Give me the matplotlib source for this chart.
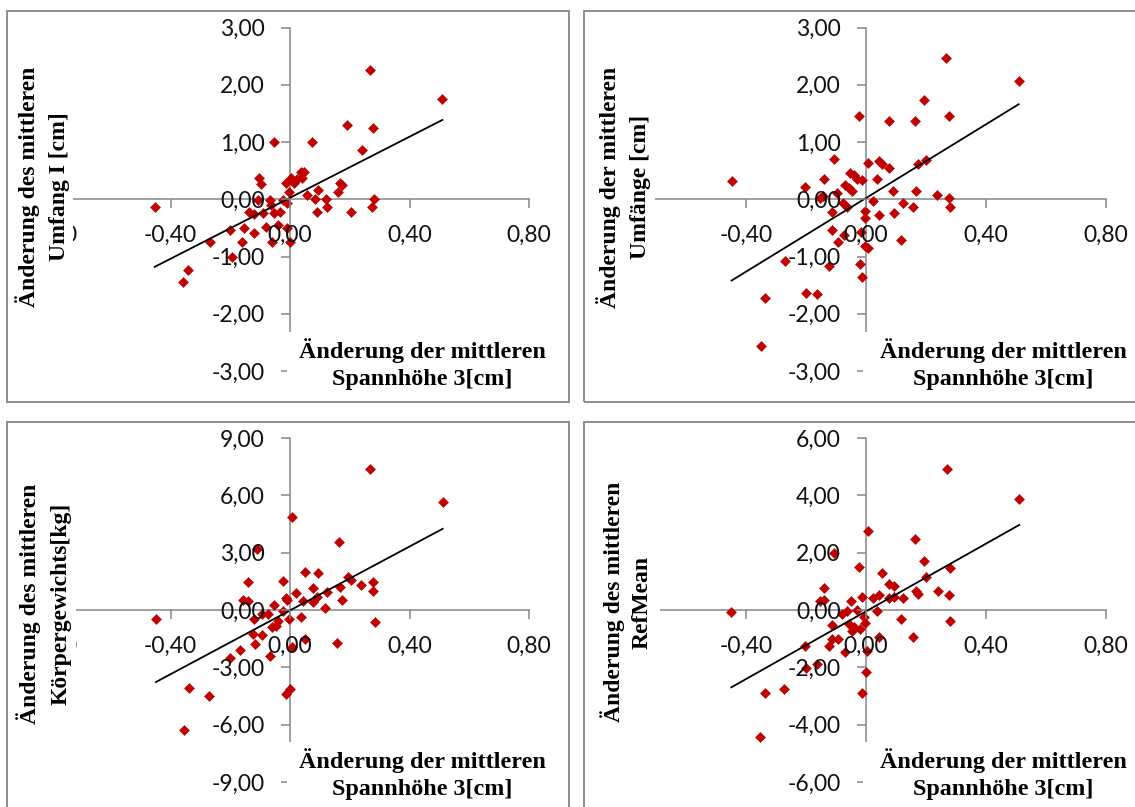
import numpy as np
import matplotlib
matplotlib.use("Agg")
import matplotlib.pyplot as plt
from matplotlib.patches import Rectangle

# ---------------- data ----------------
x_ticks = [-0.8, -0.4, 0.0, 0.4, 0.8]
y_ticks_umfang = [-3, -2, -1, 0, 1, 2, 3]
y_ticks_gewicht = [-9, -6, -3, 0, 3, 6, 9]
y_ticks_refmean = [-6, -4, -2, 0, 2, 4, 6]

x_label = ["Änderung der mittleren", "Spannhöhe 3[cm]"]
y_label_umfang1 = ["Änderung des mittleren", "Umfang I [cm]"]
y_label_umfaenge = ["Änderung der mittleren", "Umfänge [cm]"]
y_label_gewicht = ["Änderung des mittleren", "Körpergewichts[kg]"]
y_label_refmean = ["Änderung des mittleren", "RefMean"]

x_umfang1 = [-0.453, -0.357, -0.341, -0.269, -0.202, -0.195, -0.159, -0.154, -0.137, -0.120,
             -0.120, -0.107, -0.104, -0.098, -0.092, -0.081, -0.067, -0.062, -0.061, -0.054,
             -0.053, -0.040, -0.033, -0.025, -0.014, -0.011, -0.009, -0.005, 0.000, 0.005,
             0.013, 0.022, 0.036, 0.041, 0.047, 0.056, 0.073, 0.083, 0.092, 0.095,
             0.119, 0.125, 0.159, 0.167, 0.175, 0.192, 0.203, 0.242, 0.267, 0.275,
             0.278, 0.281, 0.510]
y_umfang1 = [-0.13, -1.44, -1.24, -0.74, -0.54, -1.00, -0.74, -0.51, -0.22, -0.25,
             -0.59, -0.01, 0.37, 0.27, -0.24, -0.49, -0.01, -0.10, -0.74, -0.24,
             1.00, -0.45, -0.22, -0.01, 0.28, -0.51, -0.07, 0.12, -0.74, 0.37,
             0.28, 0.35, 0.48, 0.37, 0.48, 0.08, 1.00, 0.00, -0.22, 0.16,
             0.00, -0.13, 0.13, 0.28, 0.25, 1.30, -0.22, 0.86, 2.25, -0.13,
             1.24, 0.00, 1.75]

x_umfaenge = [-0.448, -0.351, -0.336, -0.271, -0.205, -0.199, -0.165, -0.153, -0.142, -0.141,
              -0.123, -0.114, -0.114, -0.107, -0.098, -0.093, -0.078, -0.073, -0.069, -0.063,
              -0.057, -0.053, -0.047, -0.039, -0.030, -0.023, -0.020, -0.017, -0.014, -0.012,
              -0.005, -0.002, -0.002, 0.006, 0.007, 0.022, 0.037, 0.042, 0.043, 0.052,
              0.076, 0.078, 0.091, 0.094, 0.116, 0.124, 0.158, 0.164, 0.166, 0.172,
              0.194, 0.200, 0.238, 0.268, 0.277, 0.278, 0.280, 0.509]
y_umfaenge = [0.32, -2.57, -1.73, -1.07, 0.21, -1.63, -1.65, 0.03, 0.06, 0.35,
              -1.17, -0.23, -0.54, 0.71, 0.11, -0.75, -0.06, -0.62, 0.25, -0.14,
              0.19, 0.46, 0.15, 0.42, 0.36, 1.46, -1.13, -0.58, -1.36, 0.34,
              -0.20, -0.33, -0.82, 0.64, -0.86, -0.03, 0.35, -0.27, 0.66, 0.62,
              1.36, 0.55, 0.15, -0.24, -0.72, -0.07, -0.13, 1.36, 0.15, 0.62,
              1.74, 0.68, 0.08, 2.46, 0.03, 1.45, -0.14, 2.06]

x_gewicht = [-0.449, -0.354, -0.338, -0.272, -0.201, -0.166, -0.156, -0.141, -0.140, -0.123,
             -0.120, -0.116, -0.110, -0.095, -0.093, -0.073, -0.068, -0.061, -0.052, -0.046,
             -0.040, -0.024, -0.022, -0.013, -0.013, -0.010, -0.004, -0.001, 0.006, 0.006,
             0.021, 0.037, 0.043, 0.051, 0.051, 0.076, 0.078, 0.091, 0.094, 0.116,
             0.124, 0.157, 0.163, 0.167, 0.173, 0.194, 0.204, 0.238, 0.268, 0.277,
             0.279, 0.283, 0.511]
y_gewicht = [-0.47, -6.28, -4.06, -4.48, -2.52, -2.10, 0.52, 1.49, 0.49, -1.26,
             -0.47, -1.78, 3.20, -0.21, -1.31, -0.21, -2.40, -0.87, 0.28, -0.82,
             -0.56, -0.03, 1.50, -4.41, 0.61, 0.52, -0.47, -4.14, 4.86, -1.96,
             0.87, -0.35, 0.45, 1.98, -1.52, 1.15, 0.40, 0.66, 1.92, 0.10,
             0.93, -1.73, 3.55, 1.19, 0.52, 1.75, 1.59, 1.31, 7.36, 1.01,
             1.49, -0.61, 5.65]

x_refmean = [-0.449, -0.353, -0.337, -0.272, -0.205, -0.199, -0.165, -0.153, -0.141, -0.141,
             -0.123, -0.115, -0.115, -0.107, -0.093, -0.079, -0.069, -0.063, -0.057, -0.051,
             -0.047, -0.039, -0.030, -0.023, -0.020, -0.014, -0.012, -0.008, -0.005, 0.000,
             0.004, 0.006, 0.022, 0.037, 0.042, 0.043, 0.052, 0.076, 0.078, 0.092,
             0.094, 0.116, 0.124, 0.158, 0.164, 0.167, 0.172, 0.194, 0.200, 0.239,
             0.269, 0.278, 0.279, 0.281, 0.511]
y_refmean = [-0.08, -4.43, -2.91, -2.76, -1.25, -2.04, -1.89, 0.33, 0.76, 0.36,
             -1.25, -0.51, -1.01, 1.99, -1.01, -0.14, -1.48, -0.02, -0.49, 0.33,
             -0.72, -0.61, 0.00, 1.49, -0.66, -2.88, 0.47, -0.26, -0.47, -2.16,
             -1.42, 2.74, 0.42, -0.02, -0.93, 0.52, 1.28, 0.89, 0.41, 0.83,
             0.44, -0.31, 0.41, -0.93, 2.46, 0.65, 0.56, 1.72, 1.14, 0.68,
             4.93, 0.52, 1.47, -0.37, 3.86]

# ---------------- layout ----------------
W, H = 1135, 807
GRAY = "#868686"
RED = "#C00000"
TICK_FONT = ["Lato", "DejaVu Sans"]
TITLE_FONT = ["Liberation Serif", "DejaVu Serif"]


def fx(px):
    return px / W


def fy(py):
    return 1 - py / H


def fmt(v):
    return f"{v:.2f}".replace(".", ",")


fig = plt.figure(figsize=(W / 100, H / 100), dpi=100)
fig.patch.set_facecolor("white")

panels = [
    dict(x=x_umfang1, y=y_umfang1, yt=y_ticks_umfang, ylab=y_label_umfang1,
         ax=(51, 529, 27.5, 371), border=(7, 11, 569, 402), hide_first=False,
         ybox=(8, 40, 73, 330), xbox=(287, 332, 567, 400),
         ylab_x=(28, 59), ylab_y=187, xlab_x=422, xlab_base=(358, 385)),
    dict(x=x_umfaenge, y=y_umfaenge, yt=y_ticks_umfang, ylab=y_label_umfaenge,
         ax=(626, 1106, 27.5, 371), border=(584, 11, 1200, 402), hide_first=True,
         ybox=(585, 40, 655, 330), xbox=(863, 332, 1134, 400),
         ylab_x=(609, 640), ylab_y=187, xlab_x=1003, xlab_base=(358, 385)),
    dict(x=x_gewicht, y=y_gewicht, yt=y_ticks_gewicht, ylab=y_label_gewicht,
         ax=(51, 529, 438, 782), border=(7, 422, 569, 900), hide_first=False,
         ybox=(8, 450, 76, 760), xbox=(287, 742, 567, 806),
         ylab_x=(29, 61), ylab_y=604, xlab_x=422, xlab_base=(768, 795)),
    dict(x=x_refmean, y=y_refmean, yt=y_ticks_refmean, ylab=y_label_refmean,
         ax=(626, 1106, 438, 782), border=(584, 422, 1200, 900), hide_first=True,
         ybox=(585, 450, 660, 760), xbox=(863, 742, 1134, 806),
         ylab_x=(613, 642), ylab_y=602, xlab_x=1003, xlab_base=(768, 795)),
]

for p in panels:
    l, r, t, b = p["ax"]
    ax = fig.add_axes([fx(l), fy(b), fx(r) - fx(l), fy(t) - fy(b)])
    ax.set_facecolor("none")
    ax.set_xlim(x_ticks[0], x_ticks[-1])
    ax.set_ylim(p["yt"][0], p["yt"][-1])
    for s in ("top", "right"):
        ax.spines[s].set_visible(False)
    for s in ("left", "bottom"):
        ax.spines[s].set_position(("data", 0))
        ax.spines[s].set_color(GRAY)
        ax.spines[s].set_linewidth(1.1)
        ax.spines[s].set_zorder(1.5)
    ax.set_axisbelow(False)
    ax.set_xticks(x_ticks)
    xlabels = [fmt(v) for v in x_ticks]
    if p["hide_first"]:
        xlabels[0] = ""  # fully covered by the axis title in the original
    ax.set_xticklabels(xlabels)
    ax.set_yticks(p["yt"])
    ax.set_yticklabels([fmt(v) for v in p["yt"]])
    ax.tick_params(direction="out", length=6.5, width=1.1, color=GRAY,
                   labelsize=16.5, labelcolor="#111111", pad=11.8)
    for lab in ax.get_xticklabels() + ax.get_yticklabels():
        lab.set_family(TICK_FONT)

    xs = np.array(p["x"])
    ys = np.array(p["y"])
    ax.plot(xs, ys, linestyle="none", marker="D", markersize=5.0,
            markerfacecolor=RED, markeredgecolor=RED, markeredgewidth=0.4,
            zorder=2, clip_on=False)
    k, d = np.polyfit(xs, ys, 1)
    xl = np.array([xs.min(), xs.max()])
    ax.plot(xl, k * xl + d, color="black", linewidth=1.3, zorder=2.2)

    # white title boxes
    for (x0, y0, x1, y1) in (p["ybox"], p["xbox"]):
        fig.add_artist(Rectangle((fx(x0), fy(y1)), fx(x1) - fx(x0), fy(y0) - fy(y1),
                                 transform=fig.transFigure, facecolor="white",
                                 edgecolor="none", zorder=5))
    # border
    bx0, by0, bx1, by1 = p["border"]
    fig.add_artist(Rectangle((fx(bx0), fy(by1)), fx(bx1) - fx(bx0), fy(by0) - fy(by1),
                             transform=fig.transFigure, facecolor="none",
                             edgecolor=GRAY, linewidth=1.3, zorder=7))
    # y title
    for txt, xc in zip(p["ylab"], p["ylab_x"]):
        fig.text(fx(xc), fy(p["ylab_y"]), txt, rotation=90, ha="center", va="center",
                 family=TITLE_FONT, fontweight="bold", fontsize=17.0, zorder=6)
    # x title
    for txt, yb in zip(x_label, p["xlab_base"]):
        fig.text(fx(p["xlab_x"]), fy(yb), txt, ha="center", va="baseline",
                 family=TITLE_FONT, fontweight="bold", fontsize=17.4, zorder=6)

fig.savefig("out.png", dpi=100, facecolor="white")
